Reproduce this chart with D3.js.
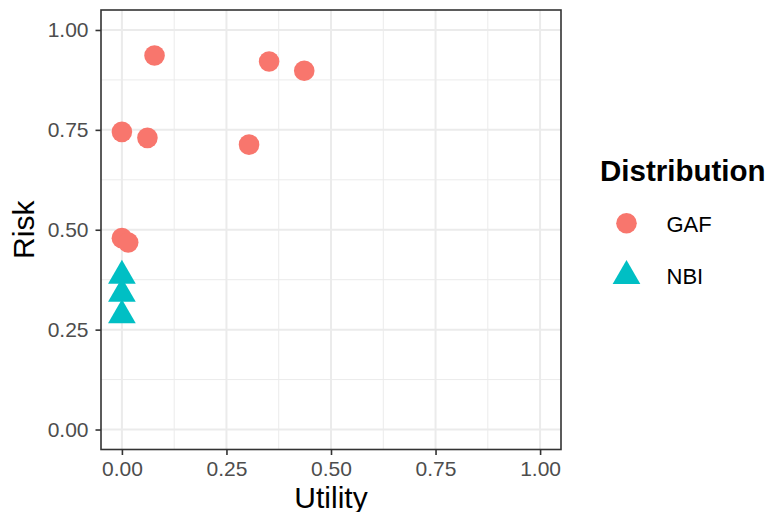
<!DOCTYPE html>
<html><head><meta charset="utf-8">
<script src="https://d3js.org/d3.v7.min.js"></script>
<style>body{margin:0;background:#fff}svg{display:block;font-family:"Liberation Sans",Arial,sans-serif}</style>
</head><body><svg id="c" width="769" height="512"></svg>
<script>
const gafUtility = [0.078, 0.352, 0.436, 0.000, 0.061, 0.304, 0.000, 0.015];
const gafRisk    = [0.936, 0.921, 0.898, 0.745, 0.730, 0.713, 0.479, 0.468];
const nbiUtility = [0.000, 0.000, 0.000];
const nbiRisk    = [0.385, 0.340, 0.286];
const tickValues = [0, 0.25, 0.5, 0.75, 1];
const tickLabels = ["0.00", "0.25", "0.50", "0.75", "1.00"];
const seriesNames = ["GAF", "NBI"];
const seriesColors = ["#F8766D", "#00BFC4"];

const svg = d3.select("#c");
const P = {l: 101, r: 561, t: 10, b: 449.5};
const x = d3.scaleLinear().domain([-0.05, 1.05]).range([P.l, P.r]);
const y = d3.scaleLinear().domain([-0.05, 1.05]).range([P.b, P.t]);
const minor = [0.125, 0.375, 0.625, 0.875];

const g = svg.append("g");
// grid
g.selectAll(".mx").data(minor).join("line").attr("x1", d => x(d)).attr("x2", d => x(d)).attr("y1", P.t).attr("y2", P.b).attr("stroke", "#EBEBEB").attr("stroke-width", 1);
g.selectAll(".my").data(minor).join("line").attr("y1", d => y(d)).attr("y2", d => y(d)).attr("x1", P.l).attr("x2", P.r).attr("stroke", "#EBEBEB").attr("stroke-width", 1);
g.selectAll(".Mx").data(tickValues).join("line").attr("x1", d => x(d)).attr("x2", d => x(d)).attr("y1", P.t).attr("y2", P.b).attr("stroke", "#EBEBEB").attr("stroke-width", 2);
g.selectAll(".My").data(tickValues).join("line").attr("y1", d => y(d)).attr("y2", d => y(d)).attr("x1", P.l).attr("x2", P.r).attr("stroke", "#EBEBEB").attr("stroke-width", 2);

// points
const circR = 10.3;
const triR = 16;
const triPath = d3.symbol().type(d3.symbolTriangle).size(triR * triR * 3 * Math.sqrt(3) / 4);
const gaf = gafUtility.map((u, i) => ({u, r: gafRisk[i]}));
const nbi = nbiUtility.map((u, i) => ({u, r: nbiRisk[i]}));
g.selectAll(".gaf").data(gaf).join("circle").attr("cx", d => x(d.u)).attr("cy", d => y(d.r)).attr("r", circR).attr("fill", seriesColors[0]);
g.selectAll(".nbi").data(nbi).join("path").attr("d", triPath).attr("transform", d => `translate(${x(d.u)},${y(d.r)})`).attr("fill", seriesColors[1]);

// border
svg.append("rect").attr("x", P.l).attr("y", P.t).attr("width", P.r - P.l).attr("height", P.b - P.t).attr("fill", "none").attr("stroke", "#333333").attr("stroke-width", 1.6);

// axes
const fmt = (d) => tickLabels[tickValues.indexOf(d)];
const xa = svg.append("g").attr("transform", `translate(0,${P.b})`).call(d3.axisBottom(x).tickValues(tickValues).tickFormat(fmt).tickSize(5.5).tickPadding(6));
const ya = svg.append("g").attr("transform", `translate(${P.l},0)`).call(d3.axisLeft(y).tickValues(tickValues).tickFormat(fmt).tickSize(5.5).tickPadding(7));
[xa, ya].forEach(a => {
  a.select(".domain").remove();
  a.selectAll(".tick line").attr("stroke", "#333333").attr("stroke-width", 1.6);
  a.selectAll(".tick text").attr("fill", "#4D4D4D").attr("font-size", 21).attr("font-family", "Liberation Sans, Arial, sans-serif");
});
xa.selectAll(".tick text").attr("dy", "0.71em");

// axis titles
svg.append("text").attr("x", x(0.5)).attr("y", 508).attr("text-anchor", "middle").attr("font-size", 30).attr("fill", "#000").text("Utility");
svg.append("text").attr("transform", `translate(34,${(P.t + P.b) / 2}) rotate(-90)`).attr("text-anchor", "middle").attr("font-size", 30).attr("fill", "#000").text("Risk");

// legend
svg.append("text").attr("x", 600).attr("y", 180.5).attr("font-size", 29.5).attr("font-weight", "bold").attr("fill", "#000").text("Distribution");
svg.append("circle").attr("cx", 626.5).attr("cy", 223.3).attr("r", circR).attr("fill", seriesColors[0]);
svg.append("path").attr("d", triPath).attr("transform", "translate(626.5,276)").attr("fill", seriesColors[1]);
svg.append("text").attr("x", 666.5).attr("y", 231.7).attr("font-size", 22).attr("fill", "#000").text(seriesNames[0]);
svg.append("text").attr("x", 666.5).attr("y", 283.5).attr("font-size", 22).attr("fill", "#000").text(seriesNames[1]);
</script></body></html>
